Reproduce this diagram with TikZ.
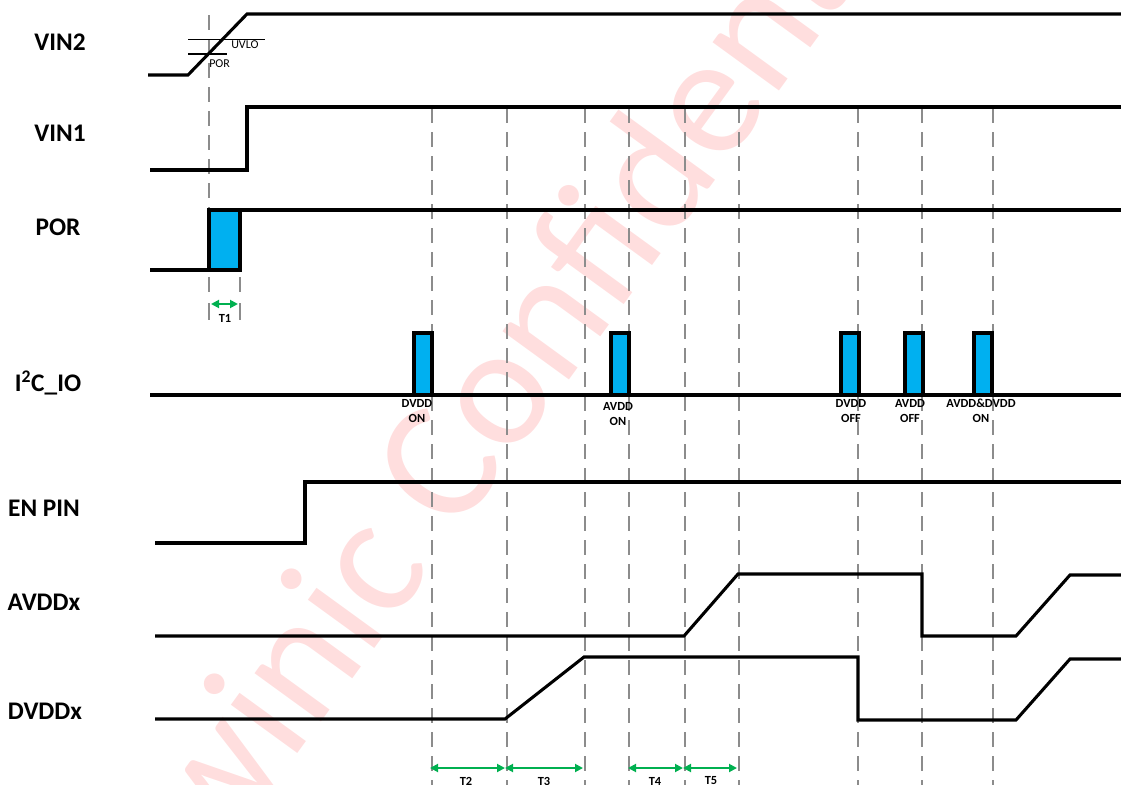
\documentclass[tikz,border=0pt]{standalone}
\usepackage{fontspec}
\setmainfont{Carlito}
\usetikzlibrary{arrows.meta}
\definecolor{sigblue}{HTML}{00B0F0}
\definecolor{tgreen}{HTML}{00B050}
\definecolor{gridgray}{HTML}{8C8C8C}
\definecolor{wmark}{HTML}{FFDEDE}
\begin{document}
\begin{tikzpicture}[x=0.75pt,y=-0.75pt,
  sig/.style={line width=2.3pt, line join=miter},
  guide/.style={draw=gridgray, line width=1.4pt, dash pattern=on 11pt off 7pt},
  guideseg/.style={draw=gridgray, line width=1.4pt},
  pulse/.style={draw=black, fill=sigblue, line width=2.3pt},
  tarrow/.style={draw=tgreen, line width=1.4pt, {Triangle[length=6pt,width=6pt]}-{Triangle[length=6pt,width=6pt]}},
  siglabel/.style={font=\fontsize{19}{19}\selectfont\bfseries, inner sep=0pt},
  evlabel/.style={font=\fontsize{9.3}{11.3}\selectfont\bfseries, align=center, inner sep=0pt, anchor=north},
  tlabel/.style={font=\fontsize{9.3}{10}\selectfont\bfseries, inner sep=0pt},
  thrlabel/.style={font=\fontsize{9}{10}\selectfont, inner sep=0pt, anchor=west},
  thr/.style={line width=0.9pt}]
\path[use as bounding box] (0,0) rectangle (1121,785);

% watermark
\begin{scope}
\clip (0,0) rectangle (1121,785);
\node[rotate=54, text=wmark, font=\fontsize{129}{129}\selectfont, inner sep=0pt] (wm) at (514,356) {awinic Confidential};
\end{scope}

% guide lines
\draw[guide] (209,15) -- (209,268);
\foreach \gx in {209,240} {
  \draw[guideseg] (\gx,277) -- (\gx,292);
  \draw[guideseg] (\gx,303) -- (\gx,320);
}
\foreach \gx in {432,507,585,629,685,739,858,922,993}
  \draw[guide] (\gx,108) -- (\gx,785);

% signal labels
\node[siglabel] (lvin2) at (60,42) {VIN2};
\node[siglabel] (lvin1) at (60,133) {VIN1};
\node[siglabel] (lpor) at (58,227) {POR};
\node[siglabel] (li2c) at (48,383) {I\textsuperscript{2}C\_IO};
\node[siglabel] (len) at (44,508) {EN PIN};
\node[siglabel] (lavdd) at (44,602) {AVDDx};
\node[siglabel] (ldvdd) at (45,711) {DVDDx};

% VIN2
\draw[sig] (148,75) -- (188,75) -- (247,14) -- (1121,14);
\draw[thr] (188,39.5) -- (265,39.5);
\draw[thr] (188,54) -- (227,54);
\node[thrlabel] (uvlo) at (231,45) {UVLO};
\node[thrlabel] (porth) at (209,64) {POR};

% VIN1
\draw[sig] (150,170) -- (247,170) -- (247,107) -- (1121,107);

% POR
\draw[sig] (150,270) -- (209,270);
\draw[pulse] (209,210) rectangle (240,270);
\draw[sig] (209,210) -- (1121,210);

% I2C_IO
\draw[sig] (150,395) -- (1121,395);
\foreach \px in {414,611,841,905,974}
  \draw[pulse] (\px,333) rectangle ++(18,62);
\node[evlabel] (ev1) at (417,399) {DVDD\\ON};
\node[evlabel] (ev2) at (618,402) {AVDD\\ON};
\node[evlabel] (ev3) at (851,399) {DVDD\\OFF};
\node[evlabel] (ev4) at (910,399) {AVDD\\OFF};
\node[evlabel] (ev5) at (981,399) {AVDD\&DVDD\\ON};

% EN PIN
\draw[sig] (155,543) -- (305,543) -- (305,482) -- (1121,482);

% AVDDx
\draw[sig] (155,636) -- (684,636) -- (738,574) -- (922,574) -- (922,636) -- (1016,636) -- (1070,575) -- (1121,575);

% DVDDx
\draw[sig] (155,719) -- (505,719) -- (584,657) -- (858,657) -- (858,720) -- (1016,720) -- (1070,659) -- (1121,659);

% timing arrows
\coordinate (t1a) at (211,304); \coordinate (t1b) at (238,304);
\draw[tarrow] (t1a) -- (t1b);
\node[tlabel] (t1) at (225,318) {T1};
\coordinate (t2a) at (430,768); \coordinate (t2b) at (505,768);
\coordinate (t3b) at (583,768);
\coordinate (t4a) at (628,768); \coordinate (t4b) at (683,768);
\coordinate (t5b) at (737,768);
\draw[tarrow] (t2a) -- (t2b);
\draw[tarrow] (t2b) -- (t3b);
\draw[tarrow] (t4a) -- (t4b);
\draw[tarrow] (t4b) -- (t5b);
\node[tlabel] (t2) at (466,781) {T2};
\node[tlabel] (t3) at (544,781) {T3};
\node[tlabel] (t4) at (655,781) {T4};
\node[tlabel] (t5) at (711,781) {T5};
\end{tikzpicture}
\end{document}
